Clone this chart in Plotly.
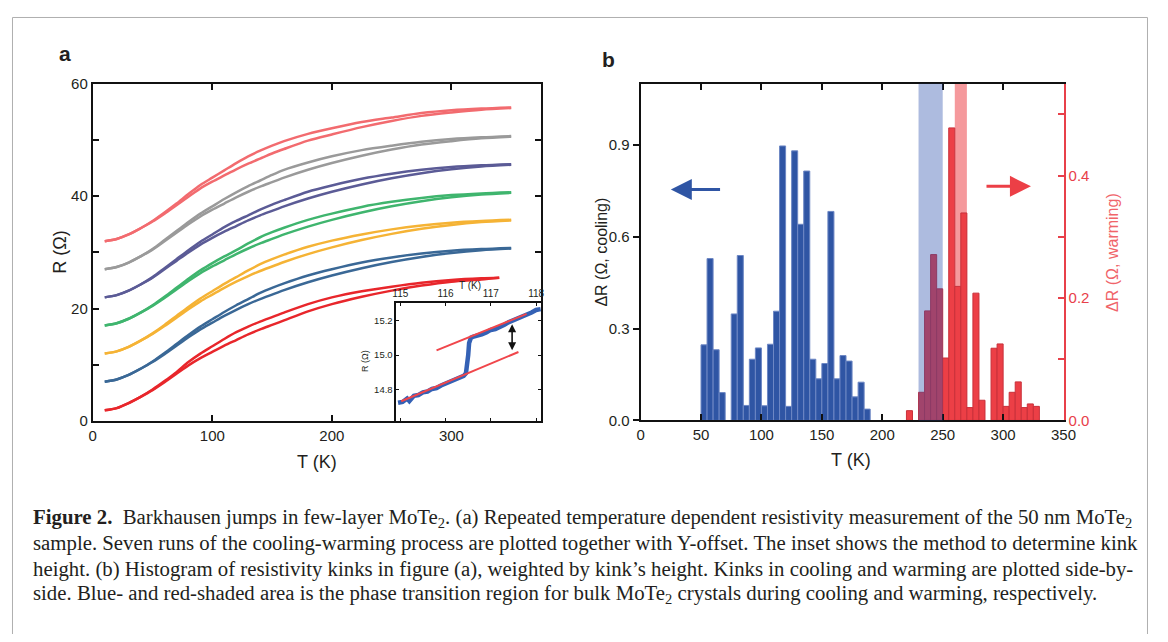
import plotly.graph_objects as go

# page is 1168x642; the figure sits inside the default 8px body margin
W, H = 1152, 626
OFF = 8
def fx(p): return (p - OFF) / W
def fy(p): return 1 - (p - OFF) / H

# ---------------- Panel a data: R(T), cooling/warming for 7 runs ----------------
T_GRID = [10, 20, 30, 40, 50, 60, 70, 80, 90, 100, 110, 120, 130, 140, 150, 160, 180, 200, 225, 250, 275, 300, 325, 350]
T_RUN1 = [10, 20, 30, 40, 50, 60, 70, 80, 90, 100, 110, 120, 130, 140, 150, 160, 180, 200, 225, 250, 275, 300, 325, 340]

R1_UP = [1.9, 2.3, 3.2, 4.3, 5.6, 7.1, 8.7, 10.5, 12.0, 13.3, 14.6, 15.8, 16.8, 17.7, 18.5, 19.3, 20.8, 22.0, 23.1, 23.9, 24.6, 25.1, 25.4, 25.5]
R1_LO = [1.9, 2.3, 3.2, 4.3, 5.5, 6.9, 8.4, 9.9, 11.2, 12.3, 13.4, 14.4, 15.4, 16.3, 17.1, 17.9, 19.5, 20.8, 22.1, 23.2, 24.1, 24.8, 25.2, 25.5]
R2_UP = [7.0, 7.4, 8.2, 9.3, 10.6, 12.1, 13.7, 15.3, 16.8, 18.1, 19.4, 20.6, 21.7, 22.8, 23.7, 24.5, 25.9, 27.0, 28.2, 29.1, 29.8, 30.3, 30.6, 30.8]
R2_LO = [7.0, 7.4, 8.2, 9.3, 10.5, 11.9, 13.4, 14.9, 16.3, 17.5, 18.7, 19.8, 20.8, 21.7, 22.5, 23.3, 24.7, 25.9, 27.2, 28.3, 29.2, 29.9, 30.4, 30.7]
R3_UP = [12.0, 12.4, 13.2, 14.3, 15.6, 17.1, 18.7, 20.3, 21.8, 23.1, 24.4, 25.6, 26.8, 27.9, 28.8, 29.6, 31.0, 32.1, 33.2, 34.1, 34.8, 35.3, 35.6, 35.8]
R3_LO = [12.0, 12.4, 13.2, 14.3, 15.5, 16.9, 18.4, 19.9, 21.3, 22.5, 23.7, 24.8, 25.8, 26.7, 27.5, 28.3, 29.7, 30.9, 32.2, 33.3, 34.2, 34.9, 35.4, 35.7]
R4_UP = [17.0, 17.4, 18.2, 19.3, 20.6, 22.1, 23.7, 25.3, 26.8, 28.1, 29.3, 30.4, 31.6, 32.7, 33.6, 34.4, 35.8, 36.9, 38.1, 39.0, 39.7, 40.2, 40.5, 40.7]
R4_LO = [17.0, 17.4, 18.2, 19.3, 20.5, 21.9, 23.4, 24.9, 26.3, 27.5, 28.6, 29.7, 30.7, 31.6, 32.4, 33.2, 34.6, 35.8, 37.1, 38.2, 39.1, 39.8, 40.3, 40.6]
R5_UP = [22.0, 22.4, 23.2, 24.3, 25.6, 27.2, 28.8, 30.4, 31.9, 33.2, 34.5, 35.6, 36.6, 37.6, 38.5, 39.3, 40.8, 41.9, 43.1, 44.0, 44.7, 45.2, 45.5, 45.7]
R5_LO = [22.0, 22.4, 23.2, 24.3, 25.5, 27.0, 28.5, 30.0, 31.4, 32.6, 33.7, 34.7, 35.7, 36.6, 37.4, 38.2, 39.6, 40.8, 42.1, 43.2, 44.1, 44.8, 45.3, 45.6]
R6_UP = [27.0, 27.4, 28.2, 29.3, 30.6, 32.2, 33.8, 35.4, 36.9, 38.2, 39.5, 40.7, 41.8, 42.8, 43.8, 44.7, 46.0, 47.1, 48.2, 49.0, 49.7, 50.2, 50.5, 50.7]
R6_LO = [27.0, 27.4, 28.2, 29.3, 30.5, 32.0, 33.5, 35.0, 36.4, 37.6, 38.7, 39.8, 40.8, 41.7, 42.5, 43.3, 44.7, 45.9, 47.2, 48.3, 49.2, 49.8, 50.3, 50.6]
R7_UP = [32.0, 32.4, 33.2, 34.3, 35.6, 37.1, 38.7, 40.4, 42.0, 43.3, 44.6, 45.9, 47.1, 48.1, 49.0, 49.8, 51.1, 52.1, 53.2, 54.0, 54.8, 55.3, 55.6, 55.8]
R7_LO = [32.0, 32.4, 33.2, 34.3, 35.5, 36.9, 38.4, 39.9, 41.4, 42.6, 43.7, 44.8, 45.8, 46.7, 47.6, 48.4, 49.9, 51.0, 52.3, 53.4, 54.3, 54.9, 55.4, 55.7]

RUN_COLORS = ["#e8262b", "#3a6896", "#f5b335", "#3fb56e", "#5b5b96", "#9a9a9a", "#f26b6f"]

# ---------------- Inset data ----------------
INSET_T = [114.95, 115.05, 115.15, 115.2, 115.3, 115.4, 115.5, 115.6, 115.7, 115.8, 115.9, 116.0,
           116.1, 116.2, 116.3, 116.4, 116.45, 116.47, 116.5, 116.52, 116.56, 116.6, 116.7, 116.8,
           116.9, 117.0, 117.1, 117.2, 117.3, 117.4, 117.5, 117.6, 117.7, 117.8, 117.9, 118.0, 118.1]
INSET_R = [14.725, 14.73, 14.75, 14.735, 14.765, 14.77, 14.785, 14.79, 14.805, 14.81, 14.825, 14.835,
           14.845, 14.855, 14.865, 14.88, 14.895, 14.93, 15.0, 15.07, 15.1, 15.105, 15.11, 15.12,
           15.13, 15.145, 15.15, 15.16, 15.175, 15.19, 15.2, 15.21, 15.22, 15.235, 15.245, 15.26, 15.265]
FIT_LO_T = [115.02, 117.61]
FIT_LO_R = [14.734, 15.018]
FIT_HI_T = [115.80, 117.79]
FIT_HI_R = [15.027, 15.237]
ARROW_T = 117.47
ARROW_R = [15.187, 15.028]

# ---------------- Panel b data: histogram of kinks ----------------
COOL_BIN_START = [50, 55, 60, 65, 75, 80, 85, 90, 95, 100, 105, 110, 115, 120, 125, 130, 135, 140, 145,
                  150, 155, 160, 165, 170, 175, 180, 185]
COOL_DR = [0.247, 0.529, 0.231, 0.091, 0.348, 0.539, 0.049, 0.200, 0.237, 0.048, 0.249, 0.357, 0.897, 0.046,
           0.881, 0.641, 0.815, 0.200, 0.136, 0.186, 0.683, 0.136, 0.212, 0.194, 0.077, 0.125, 0.037]
WARM_BIN_START = [220, 230, 235, 240, 245, 250, 255, 260, 265, 270, 275, 280, 290, 295, 300, 305, 310, 315, 320, 325]
WARM_DR = [0.016, 0.046, 0.179, 0.271, 0.215, 0.102, 0.478, 0.219, 0.339, 0.021, 0.208, 0.033, 0.118, 0.125,
           0.023, 0.046, 0.063, 0.021, 0.027, 0.023]
BIN_WIDTH = 5
COOL_REGION = [230, 250]
WARM_REGION = [260, 270]

SANS = "Liberation Sans, Arial, sans-serif"
TXT = "#231f20"

fig = go.Figure()

runs = [(T_RUN1, R1_UP, R1_LO), (T_GRID, R2_UP, R2_LO), (T_GRID, R3_UP, R3_LO), (T_GRID, R4_UP, R4_LO),
        (T_GRID, R5_UP, R5_LO), (T_GRID, R6_UP, R6_LO), (T_GRID, R7_UP, R7_LO)]
for (t, up, lo), c in zip(runs, RUN_COLORS):
    for r in (up, lo):
        fig.add_trace(go.Scatter(x=t, y=r, mode="lines", line=dict(color=c, width=2.5, shape="spline", smoothing=0.8),
                                 xaxis="x", yaxis="y", showlegend=False, hoverinfo="skip"))

fig.add_trace(go.Scatter(x=INSET_T, y=INSET_R, mode="lines", line=dict(color="#3461b5", width=4.5),
                         xaxis="x3", yaxis="y3", showlegend=False, hoverinfo="skip"))
fig.add_trace(go.Scatter(x=FIT_LO_T, y=FIT_LO_R, mode="lines", line=dict(color="#f0464b", width=2),
                         xaxis="x3", yaxis="y3", showlegend=False, hoverinfo="skip"))
fig.add_trace(go.Scatter(x=FIT_HI_T, y=FIT_HI_R, mode="lines", line=dict(color="#f0464b", width=2),
                         xaxis="x3", yaxis="y3", showlegend=False, hoverinfo="skip"))

fig.add_trace(go.Bar(x=COOL_BIN_START, y=COOL_DR, width=BIN_WIDTH, offset=0,
                     marker=dict(color="#2f55a4", line=dict(color="#6d87c4", width=1)),
                     xaxis="x2", yaxis="y2", showlegend=False, hoverinfo="skip"))
fig.add_trace(go.Bar(x=WARM_BIN_START, y=WARM_DR, width=BIN_WIDTH, offset=0,
                     marker=dict(color="#ec3f46", line=dict(color="#c9303a", width=1)),
                     xaxis="x2", yaxis="y4", showlegend=False, hoverinfo="skip"))

axfont = dict(family=SANS, size=15, color=TXT)
fig.update_layout(
    width=W, height=H, margin=dict(l=0, r=0, t=0, b=0, pad=0), autosize=False,
    paper_bgcolor="white", plot_bgcolor="white", barmode="overlay",
    xaxis=dict(domain=[fx(90), fx(545)], range=[0, 375], anchor="y",
               tickvals=[0, 100, 200, 300], ticks="inside", ticklen=6, tickwidth=2, mirror="ticks",
               showline=True, linewidth=2, linecolor="#111", showgrid=False, zeroline=False,
               tickfont=axfont, tickcolor="#111"),
    yaxis=dict(domain=[fy(423.3), fy(76.7)], range=[0, 60], anchor="x",
               tickvals=[0, 20, 40, 60], ticks="inside", ticklen=6, tickwidth=2, mirror="ticks",
               minor=dict(tickvals=[10, 30, 50], ticks="inside", ticklen=6, tickwidth=2, tickcolor="#111"),
               showline=True, linewidth=2, linecolor="#111", showgrid=False, zeroline=False,
               tickfont=axfont, tickcolor="#111"),
    yaxis5=dict(overlaying="y", anchor="x", side="left", range=[0, 60], tickvals=[20, 40],
                ticks="outside", ticklen=5, tickwidth=2, tickcolor="#111", showticklabels=False,
                showline=False, showgrid=False, zeroline=False),
    xaxis3=dict(domain=[fx(398), fx(545)], range=[114.91, 118.11], anchor="y3", side="top",
                tickvals=[115, 116, 117, 118], ticks="inside", ticklen=3, mirror="ticks",
                showline=True, linewidth=1.5, linecolor="#111", showgrid=False, zeroline=False,
                tickfont=dict(family=SANS, size=10, color=TXT), tickcolor="#111"),
    yaxis3=dict(domain=[fy(423.3), fy(302)], range=[14.62, 15.30], anchor="x3",
                tickvals=[14.8, 15.0, 15.2], tickformat=".1f", ticks="inside", ticklen=3, mirror="ticks",
                showline=True, linewidth=1.5, linecolor="#111", showgrid=False, zeroline=False,
                tickfont=dict(family=SANS, size=9.5, color=TXT), tickcolor="#111"),
    xaxis2=dict(domain=[fx(646), fx(1075.3)], range=[0, 350], anchor="y2",
                tickvals=[0, 50, 100, 150, 200, 250, 300, 350], ticks="inside", ticklen=6, tickwidth=2,
                mirror="ticks", showline=True, linewidth=2, linecolor="#111", showgrid=False, zeroline=False,
                tickfont=axfont, tickcolor="#111"),
    yaxis2=dict(domain=[fy(422.7), fy(76.7)], range=[0, 1.1], anchor="x2",
                tickvals=[0, 0.3, 0.6, 0.9], ticktext=["0.0", "0.3", "0.6", "0.9"],
                ticks="outside", ticklen=6, tickwidth=2, showline=True, linewidth=2, linecolor="#111",
                showgrid=False, zeroline=False, tickfont=axfont, tickcolor="#111"),
    yaxis4=dict(overlaying="y2", anchor="x2", side="right", range=[0, 0.55],
                tickvals=[0, 0.2, 0.4], ticktext=["0.0", "0.2", "0.4"],
                ticks="inside", ticklen=6, tickwidth=2,
                minor=dict(tickvals=[0.1, 0.3, 0.5], ticks="inside", ticklen=6, tickwidth=2, tickcolor="#e8404a"),
                showline=True, linewidth=2, linecolor="#e8404a",
                showgrid=False, zeroline=False, tickfont=dict(family=SANS, size=15, color="#e8404a"),
                tickcolor="#e8404a"),
)

shapes = [
    dict(type="rect", xref="x2", yref="y2 domain", x0=WARM_REGION[0], x1=WARM_REGION[1], y0=0, y1=1,
         fillcolor="#f5999c", line=dict(width=0), layer="below"),
    dict(type="rect", xref="x2", yref="y2 domain", x0=COOL_REGION[0], x1=COOL_REGION[1], y0=0, y1=1,
         fillcolor="rgba(40,75,170,0.38)", line=dict(width=0), layer="above"),
    dict(type="rect", xref="paper", yref="paper", x0=fx(8.5), x1=fx(1160.5), y0=-0.05, y1=fy(8.5),
         line=dict(color="#b0b0b0", width=1), fillcolor="rgba(0,0,0,0)", layer="below"),
]
fig.update_layout(shapes=shapes)

ann = []
def pa(text, x, y, size=18, angle=0, color=TXT, family=SANS, xanchor="center"):
    ann.append(dict(text=text, x=fx(x), y=fy(y), xref="paper", yref="paper", showarrow=False,
                    textangle=angle, xanchor=xanchor, yanchor="middle",
                    font=dict(family=family, size=size, color=color)))

pa("<b>a</b>", 62, 46, size=21)
pa("<b>b</b>", 613, 52, size=21)
pa("T (K)", 318, 465, size=18)
pa("R (Ω)", 57, 250, size=18, angle=-90)
pa("T (K)", 860, 463, size=18)
pa("ΔR (Ω, cooling)", 606, 250, size=16, angle=-90)
pa("ΔR (Ω, warming)", 1125, 250, size=16, angle=-90, color="#f0646a")
pa("T (K)", 473, 284, size=10)
pa("R (Ω)", 367, 362, size=9, angle=-90)

SERIF = "Liberation Serif, Times New Roman, serif"
CAPTION = [
    "<b>Figure 2.</b>  Barkhausen jumps in few-layer MoTe<sub>2</sub>. (a) Repeated temperature dependent resistivity measurement of the 50 nm MoTe<sub>2</sub>",
    "sample. Seven runs of the cooling-warming process are plotted together with Y-offset. The inset shows the method to determine kink",
    "height. (b) Histogram of resistivity kinks in figure (a), weighted by kink’s height. Kinks in cooling and warming are plotted side-by-",
    "side. Blue- and red-shaded area is the phase transition region for bulk MoTe<sub>2</sub> crystals during cooling and warming, respectively.",
]
for i, line in enumerate(CAPTION):
    pa(line, 27, 523 + 26 * i, size=20.8, family=SERIF, xanchor="left")

ann.append(dict(x=25, y=0.755, ax=67, ay=0.755, xref="x2", yref="y2", axref="x2", ayref="y2", text="",
                showarrow=True, arrowhead=2, arrowsize=1.4, arrowwidth=3, arrowcolor="#2f55a4"))
ann.append(dict(x=323, y=0.765, ax=285, ay=0.765, xref="x2", yref="y2", axref="x2", ayref="y2", text="",
                showarrow=True, arrowhead=2, arrowsize=1.4, arrowwidth=3, arrowcolor="#ec3f46"))
ann.append(dict(x=ARROW_T, y=ARROW_R[1], ax=ARROW_T, ay=ARROW_R[0], xref="x3", yref="y3", axref="x3", ayref="y3",
                text="", showarrow=True, arrowhead=2, arrowside="end+start", arrowsize=1, arrowwidth=1.6,
                arrowcolor="#111"))
fig.update_layout(annotations=ann)

fig.write_html("out.html", config={"displayModeBar": False})
